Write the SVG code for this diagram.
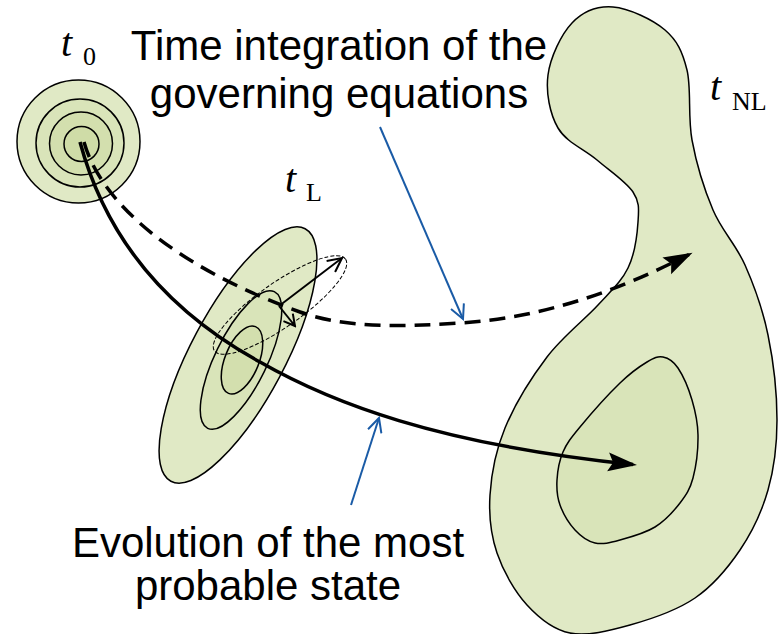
<svg xmlns="http://www.w3.org/2000/svg" width="779" height="634" viewBox="0 0 779 634">
<style>
.txt{font-family:"Liberation Sans",Arial,sans-serif;font-size:42px;fill:#000;text-anchor:middle}
.tv{font-family:"Liberation Serif","Times New Roman",serif;font-style:italic;fill:#000;font-size:40px}
.sub{font-family:"Liberation Serif","Times New Roman",serif;fill:#000;font-size:26px}
.c1{fill:#e0e9c5;stroke:#000;stroke-width:1.5}
.c2{fill:#d9e4b9;stroke:#000;stroke-width:1.5}
.c3{fill:#d3dfae;stroke:#000;stroke-width:1.5}
.c4{fill:#cfdca7;stroke:#000;stroke-width:1.5}
.thick{fill:none;stroke:#000;stroke-width:3.5}
.dash{stroke-dasharray:16 9}
.blue{fill:none;stroke:#1a5ba6;stroke-width:2}
</style>
<defs>
<marker id="head" markerUnits="userSpaceOnUse" markerWidth="30" markerHeight="20" refX="25" refY="9.5" orient="auto">
<path d="M0,0 L29,9.5 L0,19 L5,9.5 z" fill="#000"/>
</marker>
<marker id="vblue" markerUnits="userSpaceOnUse" markerWidth="18" markerHeight="16" refX="15" refY="8" orient="auto">
<path d="M1,1 L15,8 L1,15" fill="none" stroke="#1a5ba6" stroke-width="2"/>
</marker>
<marker id="vblack" markerUnits="userSpaceOnUse" markerWidth="18" markerHeight="16" refX="15" refY="8" orient="auto">
<path d="M1,1 L15,8 L1,15" fill="none" stroke="#000" stroke-width="2"/>
</marker>
<marker id="vsmall" markerUnits="userSpaceOnUse" markerWidth="14" markerHeight="14" refX="12" refY="7" orient="auto">
<path d="M1,1 L12,7 L1,13" fill="none" stroke="#000" stroke-width="2"/>
</marker>
</defs>
<rect width="779" height="634" fill="#fff"/>

<g id="node-t0">
<circle class="c1" cx="78.5" cy="141.5" r="61.5"/>
<circle class="c2" cx="80" cy="143" r="44"/>
<circle class="c3" cx="81" cy="143.5" r="31.5"/>
<circle class="c4" cx="81.5" cy="144" r="17.5"/>
<text class="tv" x="61" y="56">t</text>
<text class="sub" x="83" y="65" font-size="28">0</text>
</g>

<g id="node-tL">
<ellipse class="c1" cx="238" cy="355" rx="143" ry="47" transform="rotate(-62 238 355)"/>
<ellipse class="c2" cx="241" cy="360" rx="76" ry="26" transform="rotate(-64 241 360)"/>
<ellipse class="c3" cx="242" cy="360" rx="36" ry="17" transform="rotate(-68 242 360)"/>
<ellipse cx="280" cy="305" rx="80" ry="22" transform="rotate(-35 280 305)" fill="none" stroke="#000" stroke-width="1" stroke-dasharray="4 2"/>
<text class="tv" x="285" y="192">t</text>
<text class="sub" x="306" y="201">L</text>
</g>

<g id="node-tNL">
<path class="c1" d="M613,7 C628.5,8.2 652.7,19.5 665,30 C677.3,40.5 682.5,51.7 687,70 C691.5,88.3 687.7,116.7 692,140 C696.3,163.3 704.2,189.2 713,210 C721.8,230.8 735.8,244.2 745,265 C754.2,285.8 762.7,309.2 768,335 C773.3,360.8 777,394.2 777,420 C777,445.8 774.2,468.3 768,490 C761.8,511.7 752.2,532 740,550 C727.8,568 713.3,585.5 695,598 C676.7,610.5 650.8,619.2 630,625 C609.2,630.8 587.2,636.3 570,633 C552.8,629.7 539.2,618.3 527,605 C514.8,591.7 503.2,571.3 497,553 C490.8,534.7 488.7,515.8 490,495 C491.3,474.2 495.5,451 505,428 C514.5,405 531.5,377.5 547,357 C562.5,336.5 584.5,319.8 598,305 C611.5,290.2 621.3,281.8 628,268 C634.7,254.2 637.2,234.7 638,222 C638.8,209.3 639.8,202.3 633,192 C626.2,181.7 609.5,170.7 597,160 C584.5,149.3 566.2,142.2 558,128 C549.8,113.8 545.7,92.5 548,75 C550.3,57.5 561.2,34.3 572,23 C582.8,11.7 597.5,5.8 613,7 Z"/>
<path class="c2" d="M663,357 C668.2,358 673.2,360.8 678,368 C682.8,375.2 688.7,388.8 692,400 C695.3,411.2 697.8,422 698,435 C698.2,448 696,466.7 693,478 C690,489.3 686.3,494.8 680,503 C673.7,511.2 665,520.8 655,527 C645,533.2 630,537.3 620,540 C610,542.7 602.5,544.7 595,543 C587.5,541.3 580.8,536.3 575,530 C569.2,523.7 563,513.3 560,505 C557,496.7 556.5,488.8 557,480 C557.5,471.2 559.2,460.8 563,452 C566.8,443.2 570.5,438.5 580,427 C589.5,415.5 608.8,393.8 620,383 C631.2,372.2 639.8,366.3 647,362 C654.2,357.7 657.8,356 663,357 Z"/>
<text class="tv" x="710" y="100">t</text>
<text class="sub" x="732" y="110">NL</text>
</g>

<g id="labels">
<text class="txt" x="339" y="60">Time integration of the</text>
<text class="txt" x="339" y="108">governing equations</text>
<text class="txt" x="268" y="557">Evolution of the most</text>
<text class="txt" x="268" y="600">probable state</text>
</g>

<g id="connectors">
<path class="thick" d="M80,142 C105,235 165,310 260,362 C330,402 436,444 633,464.5" marker-end="url(#head)"/>
<path class="thick dash" d="M84,142 C100,200 170,265 300,312 C345,328 400,327 460,323 C540,318 614,293 689,254.5" marker-end="url(#head)"/>
<path d="M279,306 L342,258" fill="none" stroke="#000" stroke-width="2" marker-end="url(#vblack)"/>
<path d="M279,306 L295,326" fill="none" stroke="#000" stroke-width="2" marker-end="url(#vsmall)"/>
<path class="blue" d="M380,127 L463,319" marker-end="url(#vblue)"/>
<path class="blue" d="M351,505 L379,418" marker-end="url(#vblue)"/>
</g>
</svg>
